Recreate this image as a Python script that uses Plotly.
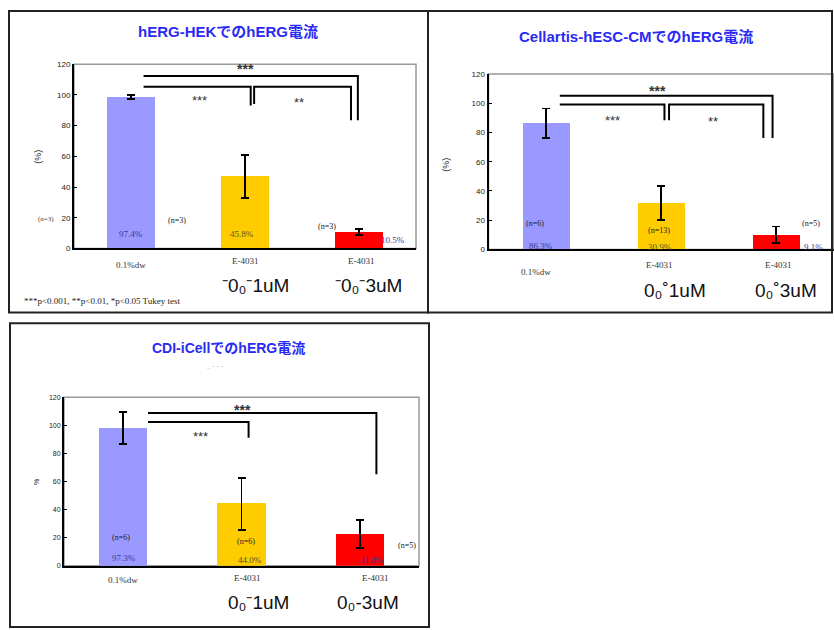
import plotly.graph_objects as go

W, H = 834, 630

# ---------------- data ----------------
categories = [0, 1, 2]
cat_labels = ["0.1%dw", "E-4031", "E-4031"]
bar_colors = ["#9999FF", "#FFCC00", "#FF0000"]

titles = ["hERG-HEKでのhERG電流", "Cellartis-hESC-CMでのhERG電流", "CDI-iCellでのhERG電流"]

p1_values = [98.5, 46.8, 10.9]
p1_errors = [1.2, 14.0, 2.0]
p1_pct = ["97.4%", "45.8%", "10.5%"]
p1_n = ["(n=3)", "(n=3)", "(n=3)"]
p1_dose = ["", "⁻0₀⁻1uM", "⁻0₀⁻3uM"]

p2_values = [86.3, 31.7, 10.1]
p2_errors = [10.1, 11.8, 5.6]
p2_pct = ["86.3%", "30.9%", "9.1%"]
p2_n = ["(n=6)", "(n=13)", "(n=5)"]
p2_dose = ["", "0₀˚1uM", "0₀˚3uM"]

p3_values = [98.2, 44.2, 22.5]
p3_errors = [11.6, 18.6, 9.9]
p3_pct = ["97.3%", "44.0%", "21.8%"]
p3_n = ["(n=6)", "(n=6)", "(n=5)"]
p3_dose = ["", "0₀⁻1uM", "0₀-3uM"]

y_ticks = [0, 20, 40, 60, 80, 100, 120]
footnote = "***p<0.001, **p<0.01, *p<0.05 Tukey test"


def px(x):
    return x / W


def py(y):
    return 1 - y / H


fig = go.Figure()

# plot areas in pixels: (left, right, top, bottom)
areas = [(74, 416, 61, 248), (488.5, 833.5, 71, 249), (64, 419, 399, 570)]
values = [p1_values, p2_values, p3_values]
errors = [p1_errors, p2_errors, p3_errors]
tick_sizes = [8, 8, 7]
bar_w = [0.42, 0.41, 0.41]

serif = "Liberation Serif"
sans = "Liberation Sans"
title_font = "Liberation Sans, Noto Sans CJK JP"

for i in range(3):
    l, r, t, b = areas[i]
    sfx = "" if i == 0 else str(i + 1)
    fig.add_trace(go.Bar(
        x=categories, y=values[i], width=bar_w[i],
        marker=dict(color=bar_colors, line=dict(width=0)),
        error_y=dict(type="data", array=errors[i], visible=True,
                     color="black", thickness=1.8, width=4),
        xaxis="x" + sfx, yaxis="y" + sfx, showlegend=False,
    ))
    fig.update_layout(**{
        "xaxis" + sfx: dict(domain=[px(l), px(r)], range=[-0.5, 2.5],
                            anchor="y" + sfx, showticklabels=False, ticks="",
                            showgrid=False, zeroline=False, showline=True,
                            linecolor="black", linewidth=2, fixedrange=True),
        "yaxis" + sfx: dict(domain=[py(b), py(t)], range=[0, 120],
                            anchor="x" + sfx, tickvals=y_ticks,
                            tickfont=dict(family=sans, size=tick_sizes[i], color="#222"),
                            ticks="inside", ticklen=3, tickcolor="black",
                            showgrid=False, zeroline=False, showline=True,
                            linecolor="black", linewidth=2, fixedrange=True),
    })
    # gray plot frame
    fig.add_shape(type="rect", xref="x" + sfx + " domain", yref="y" + sfx + " domain",
                  x0=0, x1=1, y0=0, y1=1, line=dict(color="#999999", width=1.5),
                  layer="below")

# outer panel borders
for (x0, y0, x1, y1) in [(9, 7, 428, 313), (428, 7, 832, 313), (10, 324, 429, 632)]:
    fig.add_shape(type="rect", xref="paper", yref="paper",
                  x0=px(x0), x1=px(x1), y0=py(y1), y1=py(y0),
                  line=dict(color="#222222", width=2))


def bracket(sfx, pts):
    path = "M " + " L ".join(f"{x},{y}" for x, y in pts)
    fig.add_shape(type="path", xref="x" + sfx, yref="y" + sfx, path=path,
                  line=dict(color="black", width=2))


# panel 1 brackets
bracket("", [(0.11, 112.3), (1.99, 112.3), (1.99, 83.4)])
bracket("", [(0.11, 105.3), (1.05, 105.3), (1.05, 93)])
bracket("", [(1.08, 94), (1.08, 105.3), (1.93, 105.3), (1.93, 83.4)])
# panel 2 brackets
bracket("2", [(0.12, 105.2), (1.97, 105.2), (1.97, 76.2)])
bracket("2", [(0.12, 99.1), (1.03, 99.1), (1.03, 88.3)])
bracket("2", [(1.07, 88.3), (1.07, 99.1), (1.89, 99.1), (1.89, 76.2)])
# panel 3 brackets
bracket("3", [(0.21, 108.8), (2.14, 108.8), (2.14, 65.3)])
bracket("3", [(0.21, 102.5), (1.06, 102.5), (1.06, 91.2)])


def ann(text, x, y, size, color="#222", family=serif, xref="paper", yref="paper",
        bold=False, angle=0, xanchor="center"):
    if bold:
        text = "<b>" + text + "</b>"
    fig.add_annotation(text=text, x=x, y=y, xref=xref, yref=yref, showarrow=False,
                       font=dict(size=size, color=color, family=family),
                       xanchor=xanchor, yanchor="middle", textangle=angle)


navy = "#3a3a8c"
blue = "#2a2af5"
star_c = "#333333"

# titles
ann(titles[0], px(228), py(28), 15, blue, title_font, bold=True)
ann(titles[1], px(636), py(33), 15, blue, title_font, bold=True)
ann(titles[2], px(228), py(349), 14, blue, title_font, bold=True)
ann("‥ ･ ･ ･", px(215), py(368), 6, "#c0a060", sans)

# y-axis titles
ann("(%)", px(38), py(155), 9, "#222", sans, angle=-90)
ann("(%)", px(446), py(163), 9, "#222", sans, angle=-90)
ann("%", px(36), py(485), 7, "#222", sans, angle=-90)

# stars
ann("***", 1.0, 117.0, 14, star_c, sans, xref="x", yref="y", bold=True)
ann("***", 0.6, 96, 13, star_c, sans, xref="x", yref="y")
ann("**", 1.47, 95, 13, star_c, sans, xref="x", yref="y")
ann("***", 0.97, 108.5, 14, star_c, sans, xref="x2", yref="y2", bold=True)
ann("***", 0.58, 88.5, 13, star_c, sans, xref="x2", yref="y2")
ann("**", 1.45, 87.5, 13, star_c, sans, xref="x2", yref="y2")
ann("***", 1.01, 111.0, 14, star_c, sans, xref="x3", yref="y3", bold=True)
ann("***", 0.65, 92, 13, star_c, sans, xref="x3", yref="y3")

# panel 1 value labels
ann(p1_pct[0], 0.0, 9.5, 9, navy, serif, xref="x", yref="y")
ann(p1_pct[1], 0.97, 9.5, 9, "#555522", serif, xref="x", yref="y")
ann(p1_pct[2], 2.3, 5.5, 9, navy, serif, xref="x", yref="y")
ann(p1_n[1], 0.4, 18.5, 8, "#222", serif, xref="x", yref="y")
ann(p1_n[2], 1.72, 14.5, 8, "#222", serif, xref="x", yref="y")
ann(p1_n[0], px(56), py(218), 7, "#444", serif, xanchor="right")

# panel 2 value labels
ann(p2_n[0], -0.1, 17.5, 8, "#222", serif, xref="x2", yref="y2")
ann(p2_pct[0], -0.04, 2.5, 9, navy, serif, xref="x2", yref="y2")
ann(p2_n[1], 0.98, 12.8, 8, "#222", serif, xref="x2", yref="y2")
ann(p2_pct[1], 0.99, 1.5, 9, "#555522", serif, xref="x2", yref="y2")
ann(p2_n[2], 2.3, 17.5, 8, "#222", serif, xref="x2", yref="y2")
ann(p2_pct[2], 2.33, 2.0, 9, navy, serif, xref="x2", yref="y2")

# panel 3 value labels
ann(p3_n[0], -0.02, 20.5, 8, "#222", serif, xref="x3", yref="y3")
ann(p3_pct[0], 0.01, 5.5, 9, navy, serif, xref="x3", yref="y3")
ann(p3_n[1], 1.04, 17.5, 8, "#222", serif, xref="x3", yref="y3")
ann(p3_pct[1], 1.07, 4.5, 9, "#555522", serif, xref="x3", yref="y3")
ann(p3_n[2], 2.4, 14.5, 8, "#222", serif, xref="x3", yref="y3")
ann(p3_pct[2], 2.1, 4.5, 9, navy, serif, xref="x3", yref="y3")

# category labels and doses
ann(cat_labels[0], 0.0, py(265), 9, "#333", serif, xref="x")
ann(cat_labels[1], 1.0, py(261), 9, "#333", serif, xref="x")
ann(cat_labels[2], 2.02, py(261), 9, "#333", serif, xref="x")
ann(p1_dose[1], 1.09, py(286), 19, "#111", sans, xref="x")
ann(p1_dose[2], 2.08, py(286), 19, "#111", sans, xref="x")
ann(footnote, px(22), py(301), 9, "#222", serif, xanchor="left")

ann(cat_labels[0], -0.09, py(272), 9, "#333", serif, xref="x2")
ann(cat_labels[1], 0.99, py(265), 9, "#333", serif, xref="x2")
ann(cat_labels[2], 2.02, py(265), 9, "#333", serif, xref="x2")
ann(p2_dose[1], 1.12, py(291), 19, "#111", sans, xref="x2")
ann(p2_dose[2], 2.09, py(291), 19, "#111", sans, xref="x2")

ann(cat_labels[0], 0.0, py(584), 9, "#333", serif, xref="x3")
ann(cat_labels[1], 1.05, py(582), 9, "#333", serif, xref="x3")
ann(cat_labels[2], 2.13, py(582), 9, "#333", serif, xref="x3")
ann(p3_dose[1], 1.14, py(607), 19, "#111", sans, xref="x3")
ann(p3_dose[2], 2.07, py(607), 19, "#111", sans, xref="x3")

fig.update_layout(width=W, height=H, margin=dict(l=0, r=0, t=0, b=0),
                  paper_bgcolor="white", plot_bgcolor="white", bargap=0)

fig.write_html(
    "out.html",
    config={"displayModeBar": False},
    post_script="document.body.style.margin='0';document.body.style.padding='0';"
                "document.body.style.overflow='hidden';",
)
